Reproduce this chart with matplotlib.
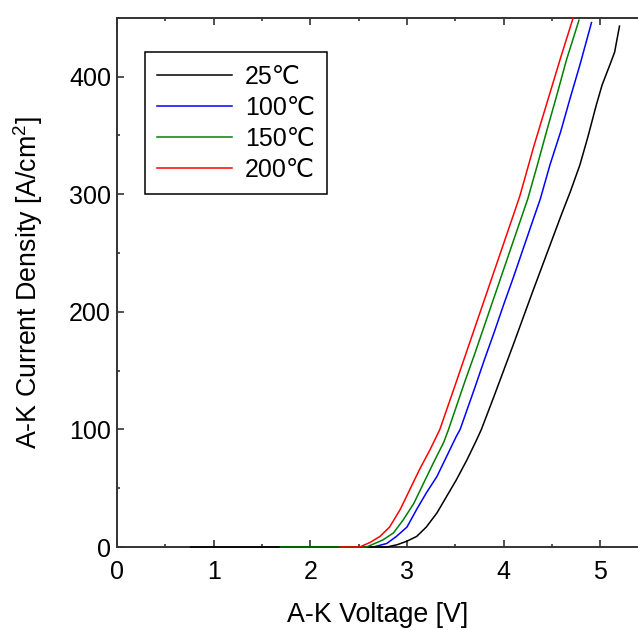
import numpy as np
import matplotlib
matplotlib.use("Agg")
import matplotlib.pyplot as plt
from matplotlib.ticker import MultipleLocator

plt.rcParams['font.family'] = ['Liberation Sans', 'DejaVu Sans']
plt.rcParams['mathtext.fontset'] = 'custom'
plt.rcParams['mathtext.rm'] = 'Liberation Sans'
plt.rcParams['mathtext.default'] = 'regular'

# curvas I-V (V, A/cm2)
v_25 = [0.76, 1.0, 1.5, 2.0, 2.5, 2.79, 2.9, 3.0, 3.1, 3.2, 3.31, 3.41, 3.51, 3.62, 3.72,
        3.77, 3.9, 4.0, 4.1, 4.22, 4.3, 4.4, 4.5, 4.6, 4.69, 4.79, 4.87, 4.96, 5.02, 5.10,
        5.15, 5.17, 5.20]
j_25 = [0, 0, 0, 0, 0, 0, 2, 5, 9, 17, 29, 43, 57, 74, 91,
        100, 128, 150, 172, 199, 217, 239, 261, 283, 302, 325, 348, 376, 393, 410,
        421, 430, 443]

v_100 = [1.39, 1.7, 2.0, 2.3, 2.65, 2.79, 2.89, 3.0, 3.1, 3.2, 3.31, 3.41, 3.51, 3.55,
         3.7, 3.8, 3.9, 4.0, 4.1, 4.2, 4.3, 4.38, 4.48, 4.59, 4.69, 4.79, 4.91]
j_100 = [0, 0, 0, 0, 0, 3, 9, 17, 32, 46, 60, 77, 94, 100,
         135, 159, 182, 206, 229, 253, 277, 296, 325, 353, 382, 410, 446]

v_150 = [1.69, 2.0, 2.3, 2.58, 2.75, 2.86, 2.96, 3.07, 3.17, 3.27, 3.38, 3.43,
         3.6, 3.7, 3.8, 3.9, 4.0, 4.1, 4.25, 4.35, 4.45, 4.55, 4.65, 4.78]
j_150 = [0, 0, 0, 0, 6, 12, 23, 37, 54, 71, 89, 100,
         141, 164, 188, 212, 236, 260, 296, 325, 355, 384, 414, 448]

v_200 = [2.31, 2.51, 2.62, 2.72, 2.82, 2.93, 3.03, 3.13, 3.24, 3.34, 3.5, 3.6, 3.7, 3.8,
         3.9, 4.0, 4.1, 4.17, 4.31, 4.45, 4.59, 4.72]
j_200 = [0, 0, 4, 9, 17, 32, 49, 66, 83, 100, 138, 162, 186, 210,
         234, 258, 282, 299, 340, 378, 416, 450]

series = [
    (v_25, j_25, '25℃', 'black', 3),
    (v_100, j_100, '100℃', 'blue', 2),
    (v_150, j_150, '150℃', 'green', 4),
    (v_200, j_200, '200℃', 'red', 5),
]

fig = plt.figure(figsize=(6.38, 6.30), dpi=100)
ax = fig.add_axes([0.1837, 0.1317, 1.0013 - 0.1837, 0.9716 - 0.1317])

for v, j, lab, col, z in series:
    ax.plot(v, j, color=col, lw=1.1, label=lab, zorder=z, clip_on=False)

ax.set_xlim(0, 5.4)
ax.set_ylim(0, 450)
ax.xaxis.set_major_locator(MultipleLocator(1))
ax.xaxis.set_minor_locator(MultipleLocator(0.5))
ax.yaxis.set_major_locator(MultipleLocator(100))
ax.yaxis.set_minor_locator(MultipleLocator(50))

ax.tick_params(which='both', direction='in', top=True, right=False, width=1.1, colors='#222222')
ax.tick_params(which='major', length=5)
ax.tick_params(which='minor', length=2.2)
ax.tick_params(axis='x', pad=9, labelsize=18, labelcolor='black')
ax.tick_params(axis='y', pad=4.5, labelsize=18, labelcolor='black')

for side in ['left', 'bottom', 'top']:
    ax.spines[side].set_linewidth(1.4)
    ax.spines[side].set_color('#333333')
ax.spines['right'].set_visible(False)

ax.set_xlabel('A-K Voltage [V]', fontsize=19.3)
ax.set_ylabel('A-K Current Density [A/cm$^2$]', fontsize=19.3)
ax.xaxis.set_label_coords(0.5, -0.104)
ax.yaxis.set_label_coords(-0.138, 0.5)

leg = ax.legend(loc='upper left', bbox_to_anchor=(0.053, 0.9355), borderaxespad=0,
                fontsize=18, handlelength=3.0, handletextpad=0.5, labelspacing=0.28,
                borderpad=0.5, fancybox=False, framealpha=1, edgecolor='black')
leg.get_frame().set_linewidth(1.1)

fig.savefig('out.png', dpi=100)
